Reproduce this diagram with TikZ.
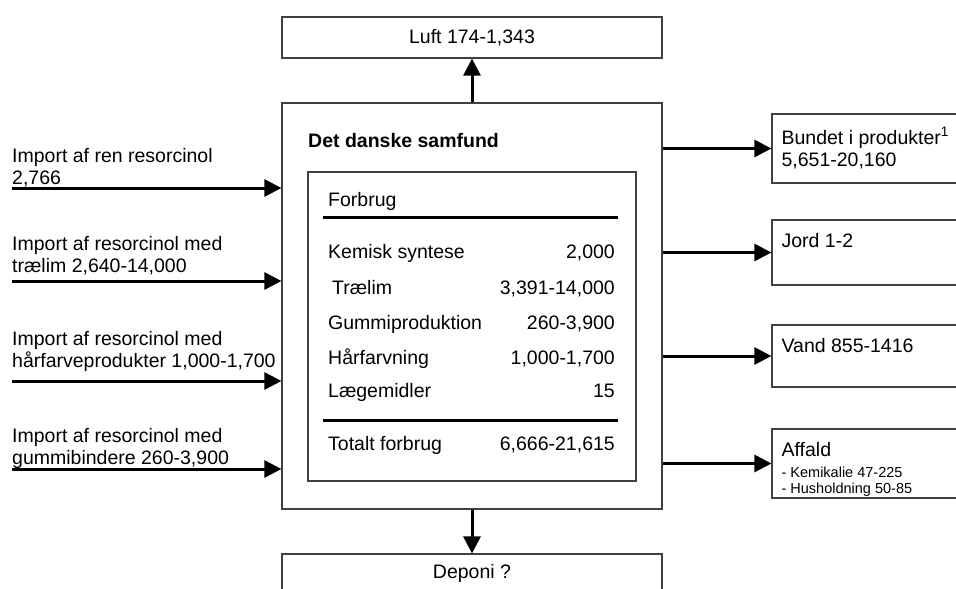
\documentclass[tikz,border=0pt]{standalone}
\usepackage{fontspec}
\setmainfont{Liberation Sans}
\usepackage{tikz}
\usetikzlibrary{arrows.meta,positioning}
\newcommand{\bodyfont}{\fontsize{19.5}{22}\selectfont}
\newcommand{\notefont}{\fontsize{14.5}{16}\selectfont}
\tikzstyle{box} = [rectangle, draw=black!75, line width=1.2pt, inner sep=0pt, font=\bodyfont]
\tikzstyle{txt} = [draw=none, fill=none, inner sep=0pt, font=\bodyfont, align=left]
\tikzstyle{flow} = [draw, line width=3pt, -{Triangle[length=17pt,width=17pt]}]
\tikzstyle{rule} = [draw, line width=3pt]

\begin{document}
\begin{tikzpicture}[x=1pt, y=-1pt]
\useasboundingbox (0,0) rectangle (956,589);

% boxes =============================
\node[box, minimum width=380pt, minimum height=41pt] (luft) at (472,37.5) {Luft 174-1,343};
\node[box, minimum width=380pt, minimum height=406pt] (samfund) at (472,306) {};
\node[box, minimum width=328pt, minimum height=309pt] (forbrug) at (472,326.5) {};
\node[box, minimum width=380pt, minimum height=38pt] (deponi) at (472,573) {Deponi ?};

\node[box, minimum width=188pt, minimum height=69pt] (bundet) at (866,148.5) {};
\node[box, minimum width=188pt, minimum height=65pt] (jord) at (866,252.5) {};
\node[box, minimum width=188pt, minimum height=62pt] (vand) at (866,356) {};
\node[box, minimum width=188pt, minimum height=69pt] (affald) at (866,463.5) {};

% texts in the output boxes
\node[txt, below right=14pt and 10pt of bundet.north west] (bundettxt) {Bundet i produkter\textsuperscript{1}\\5,651-20,160};
\node[txt, below right=14pt and 10pt of jord.north west] (jordtxt) {Jord 1-2};
\node[txt, below right=14pt and 10pt of vand.north west] (vandtxt) {Vand 855-1416};
\node[txt, below right=14pt and 10pt of affald.north west] (affaldtxt) {Affald};
\node[txt, font=\notefont, below=10pt of affaldtxt.south west, anchor=north west] (affaldnote) {- Kemikalie 47-225\\- Husholdning 50-85};

% society and consumption
\node[txt, font=\bodyfont\bfseries, anchor=base west] (title) at (308,147) {Det danske samfund};
\node[txt, anchor=base west] (head) at (328,206) {Forbrug};
\draw[rule] (323,217) -- (618,217);

\node[txt, anchor=base west] (kemisk) at (328,258) {Kemisk syntese};
\node[txt, anchor=base east] (kemiskv) at (615,258) {2,000};
\node[txt, anchor=base west] (traelim) at (332,294) {Trælim};
\node[txt, anchor=base east] (traelimv) at (615,294) {3,391-14,000};
\node[txt, anchor=base west] (gummi) at (328,329) {Gummiproduktion};
\node[txt, anchor=base east] (gummiv) at (615,329) {260-3,900};
\node[txt, anchor=base west] (haar) at (328,364) {Hårfarvning};
\node[txt, anchor=base east] (haarv) at (615,364) {1,000-1,700};
\node[txt, anchor=base west] (laege) at (328,397) {Lægemidler};
\node[txt, anchor=base east] (laegev) at (615,397) {15};

\draw[rule] (323,420) -- (618,420);
\node[txt, anchor=base west] (total) at (328,450) {Totalt forbrug};
\node[txt, anchor=base east] (totalv) at (615,450) {6,666-21,615};

% imports
\coordinate (in1) at (12,188);
\coordinate (in2) at (12,281);
\coordinate (in3) at (12,381);
\coordinate (in4) at (12,469);
\node[txt, anchor=north west] (ren) at (12,148) {Import af ren resorcinol\\2,766};
\node[txt, anchor=north west] (lim) at (12,236) {Import af resorcinol med\\trælim 2,640-14,000};
\node[txt, anchor=north west] (farve) at (12,331) {Import af resorcinol med\\hårfarveprodukter 1,000-1,700};
\node[txt, anchor=north west] (binder) at (12,428) {Import af resorcinol med\\gummibindere 260-3,900};

% edges
\draw[flow] (in1) -- (in1 -| samfund.west);
\draw[flow] (in2) -- (in2 -| samfund.west);
\draw[flow] (in3) -- (in3 -| samfund.west);
\draw[flow] (in4) -- (in4 -| samfund.west);

\draw[flow] (samfund.north) -- (luft.south);
\draw[flow] (samfund.south) -- (deponi.north);

\draw[flow] (samfund.east |- bundet.west) -- (bundet.west);
\draw[flow] (samfund.east |- jord.west) -- (jord.west);
\draw[flow] (samfund.east |- vand.west) -- (vand.west);
\draw[flow] (samfund.east |- affald.west) -- (affald.west);

\end{tikzpicture}
\end{document}
